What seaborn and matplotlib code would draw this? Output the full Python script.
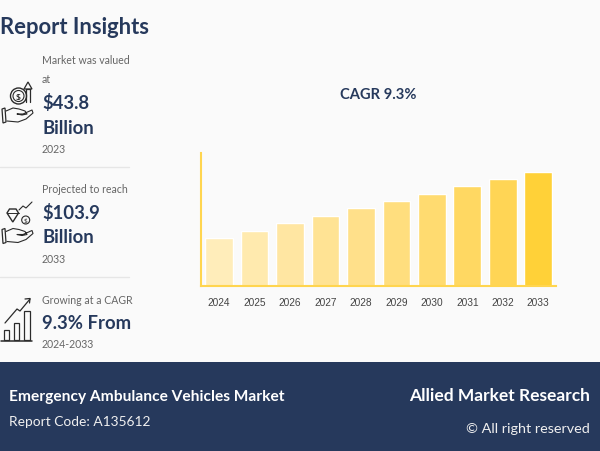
import matplotlib
matplotlib.use("Agg")
import matplotlib.pyplot as plt
from matplotlib.patches import Circle, Rectangle, Polygon
import pandas as pd
import seaborn as sns

# =========================
# DATA
# =========================
YEARS = ['2024', '2025', '2026', '2027', '2028', '2029', '2030', '2031', '2032', '2033']
MARKET_SIZE = [43.5, 50.1, 57.1, 63.5, 71.0, 77.5, 83.9, 91.1, 97.5, 103.9]
BAR_COLORS = ['#FFEDBA', '#FFEAAE', '#FFE6A2', '#FFE394', '#FFE08A',
              '#FFDE7E', '#FFDB70', '#FFD862', '#FFD555', '#FFD138']

NAVY = '#26395C'
GREY = '#666666'
BG = '#FAFAFA'
FONT = 'Lato'

sns.set_theme(style='white')
plt.rcParams['font.family'] = [FONT, 'DejaVu Sans']

fig = plt.figure(figsize=(6, 4.52), dpi=100, facecolor=BG)

# overlay in pixel coordinates for the text panels, footer and icons
bg = fig.add_axes([0, 0, 1, 1])
bg.set_xlim(0, 600)
bg.set_ylim(452, 0)
bg.axis('off')

# =========================
# BAR CHART
# =========================
ax = fig.add_axes([201.3 / 600, (452 - 286.7) / 452, 354.7 / 600, 132.7 / 452])
ax.set_facecolor('none')
df = pd.DataFrame({'year': YEARS, 'size': MARKET_SIZE})
sns.barplot(data=df, x='year', y='size', hue='year', palette=BAR_COLORS,
            legend=False, width=0.78, saturation=1, ax=ax)
ax.set_ylim(0, 121)
ax.set_xlabel('')
ax.set_ylabel('')
ax.set_yticks([])
ax.tick_params(axis='x', length=0, pad=8, labelsize=7.3, labelcolor='#444444')
for label in ax.get_xticklabels():
    label.set_family('Liberation Sans')
for side in ['top', 'right']:
    ax.spines[side].set_visible(False)
for side in ['left', 'bottom']:
    ax.spines[side].set_color('#FFD54F')
    ax.spines[side].set_linewidth(1.5)

bg.text(378.5, 95, 'CAGR 9.3%', fontsize=10.6, color=NAVY, fontweight='bold',
        ha='center', va='center')

# =========================
# LEFT PANEL TEXT
# =========================
bg.text(0, 27, 'Report Insights', fontsize=15.8, color=NAVY, fontweight='bold', va='center')

def small(y, s):
    bg.text(42, y + 0.5, s, fontsize=7.6, color=GREY, va='center')

def big(y, s):
    bg.text(42, y + 1, s, fontsize=13.3, color=NAVY, fontweight='bold', va='center')

small(59.5, 'Market was valued')
small(79, 'at')
big(102, '$43.8')
big(127, 'Billion')
small(149, '2023')

small(189.5, 'Projected to reach')
big(212, '$103.9')
big(237, 'Billion')
small(259, '2033')

small(300, 'Growing at a CAGR')
big(323, '9.3% From')
small(344, '2024-2033')

for y in [168, 278]:
    bg.plot([0, 129], [y, y], color='#E6E6E6', lw=1)

# =========================
# ICONS
# =========================
ICON = '#2B2B2B'

def hand(dx, dy):
    xs = [6, 13, 19, 25, 27, 22, 17, 23, 32, 33, 26, 18, 7]
    ys = [112, 109, 110, 112, 115, 116, 115, 115, 111, 114, 120, 123, 122]
    bg.plot([x + dx for x in xs], [y + dy for y in ys], color=ICON, lw=0.8)
    bg.add_patch(Polygon([(2 + dx, 110 + dy), (5 + dx, 109 + dy), (6 + dx, 123 + dy), (3 + dx, 124 + dy)],
                         closed=True, fill=False, ec=ICON, lw=0.9))

# coin with arrow
hand(0, 0)
bg.add_patch(Circle((18.5, 97), 8, fill=False, ec=ICON, lw=1))
bg.add_patch(Circle((18.5, 97), 5.5, fill=False, ec=ICON, lw=0.8))
bg.text(18.5, 97, '$', fontsize=6, color=ICON, ha='center', va='center', fontweight='bold')
bg.plot([26, 26, 30, 30], [103, 90, 90, 103], color=ICON, lw=0.9)
bg.add_patch(Polygon([(24, 90), (28, 83), (32, 90)], closed=True, fill=False, ec=ICON, lw=0.9))

# diamond, coin and zigzag arrow
hand(0, 120.5)
bg.add_patch(Polygon([(7, 214), (9.5, 210), (16, 210), (18.5, 214), (12.8, 223)],
                     closed=True, fill=False, ec=ICON, lw=1))
bg.plot([7, 18.5], [214, 214], color=ICON, lw=0.7)
bg.add_patch(Circle((25.7, 221), 4, fill=False, ec=ICON, lw=0.8))
bg.text(25.7, 221, '$', fontsize=4.5, color=ICON, ha='center', va='center')
bg.plot([19, 23, 26, 29, 32], [211, 207, 209, 206, 203], color=ICON, lw=0.8)

# growth bars
bg.plot([1, 32], [341.5, 341.5], color=ICON, lw=1.1)
for x, top in [(3.5, 331), (13.5, 324), (24, 312)]:
    bg.add_patch(Rectangle((x, top), 5.5, 341 - top, fill=False, ec=ICON, lw=0.9))
bg.plot([5, 17, 20, 30], [324, 310, 312, 300], color=ICON, lw=0.9)
bg.plot([25, 30, 29.5], [300, 299.5, 304], color=ICON, lw=0.9)

# =========================
# FOOTER
# =========================
bg.add_patch(Rectangle((0, 363), 600, 89, fc=NAVY, ec='none'))
bg.text(9, 397, 'Emergency Ambulance Vehicles Market', fontsize=11.2, color='white',
        fontweight='bold', va='center')
bg.text(9, 422, 'Report Code: A135612', fontsize=9.9, color='#F0F0F0', va='center')
bg.text(590, 396, 'Allied Market Research', fontsize=12.5, color='white',
        fontweight='bold', va='center', ha='right')
bg.text(590, 429, '© All right reserved', fontsize=10.4, color='#F0F0F0', va='center', ha='right')

plt.savefig('out.png', dpi=100, facecolor=BG)
plt.close()
